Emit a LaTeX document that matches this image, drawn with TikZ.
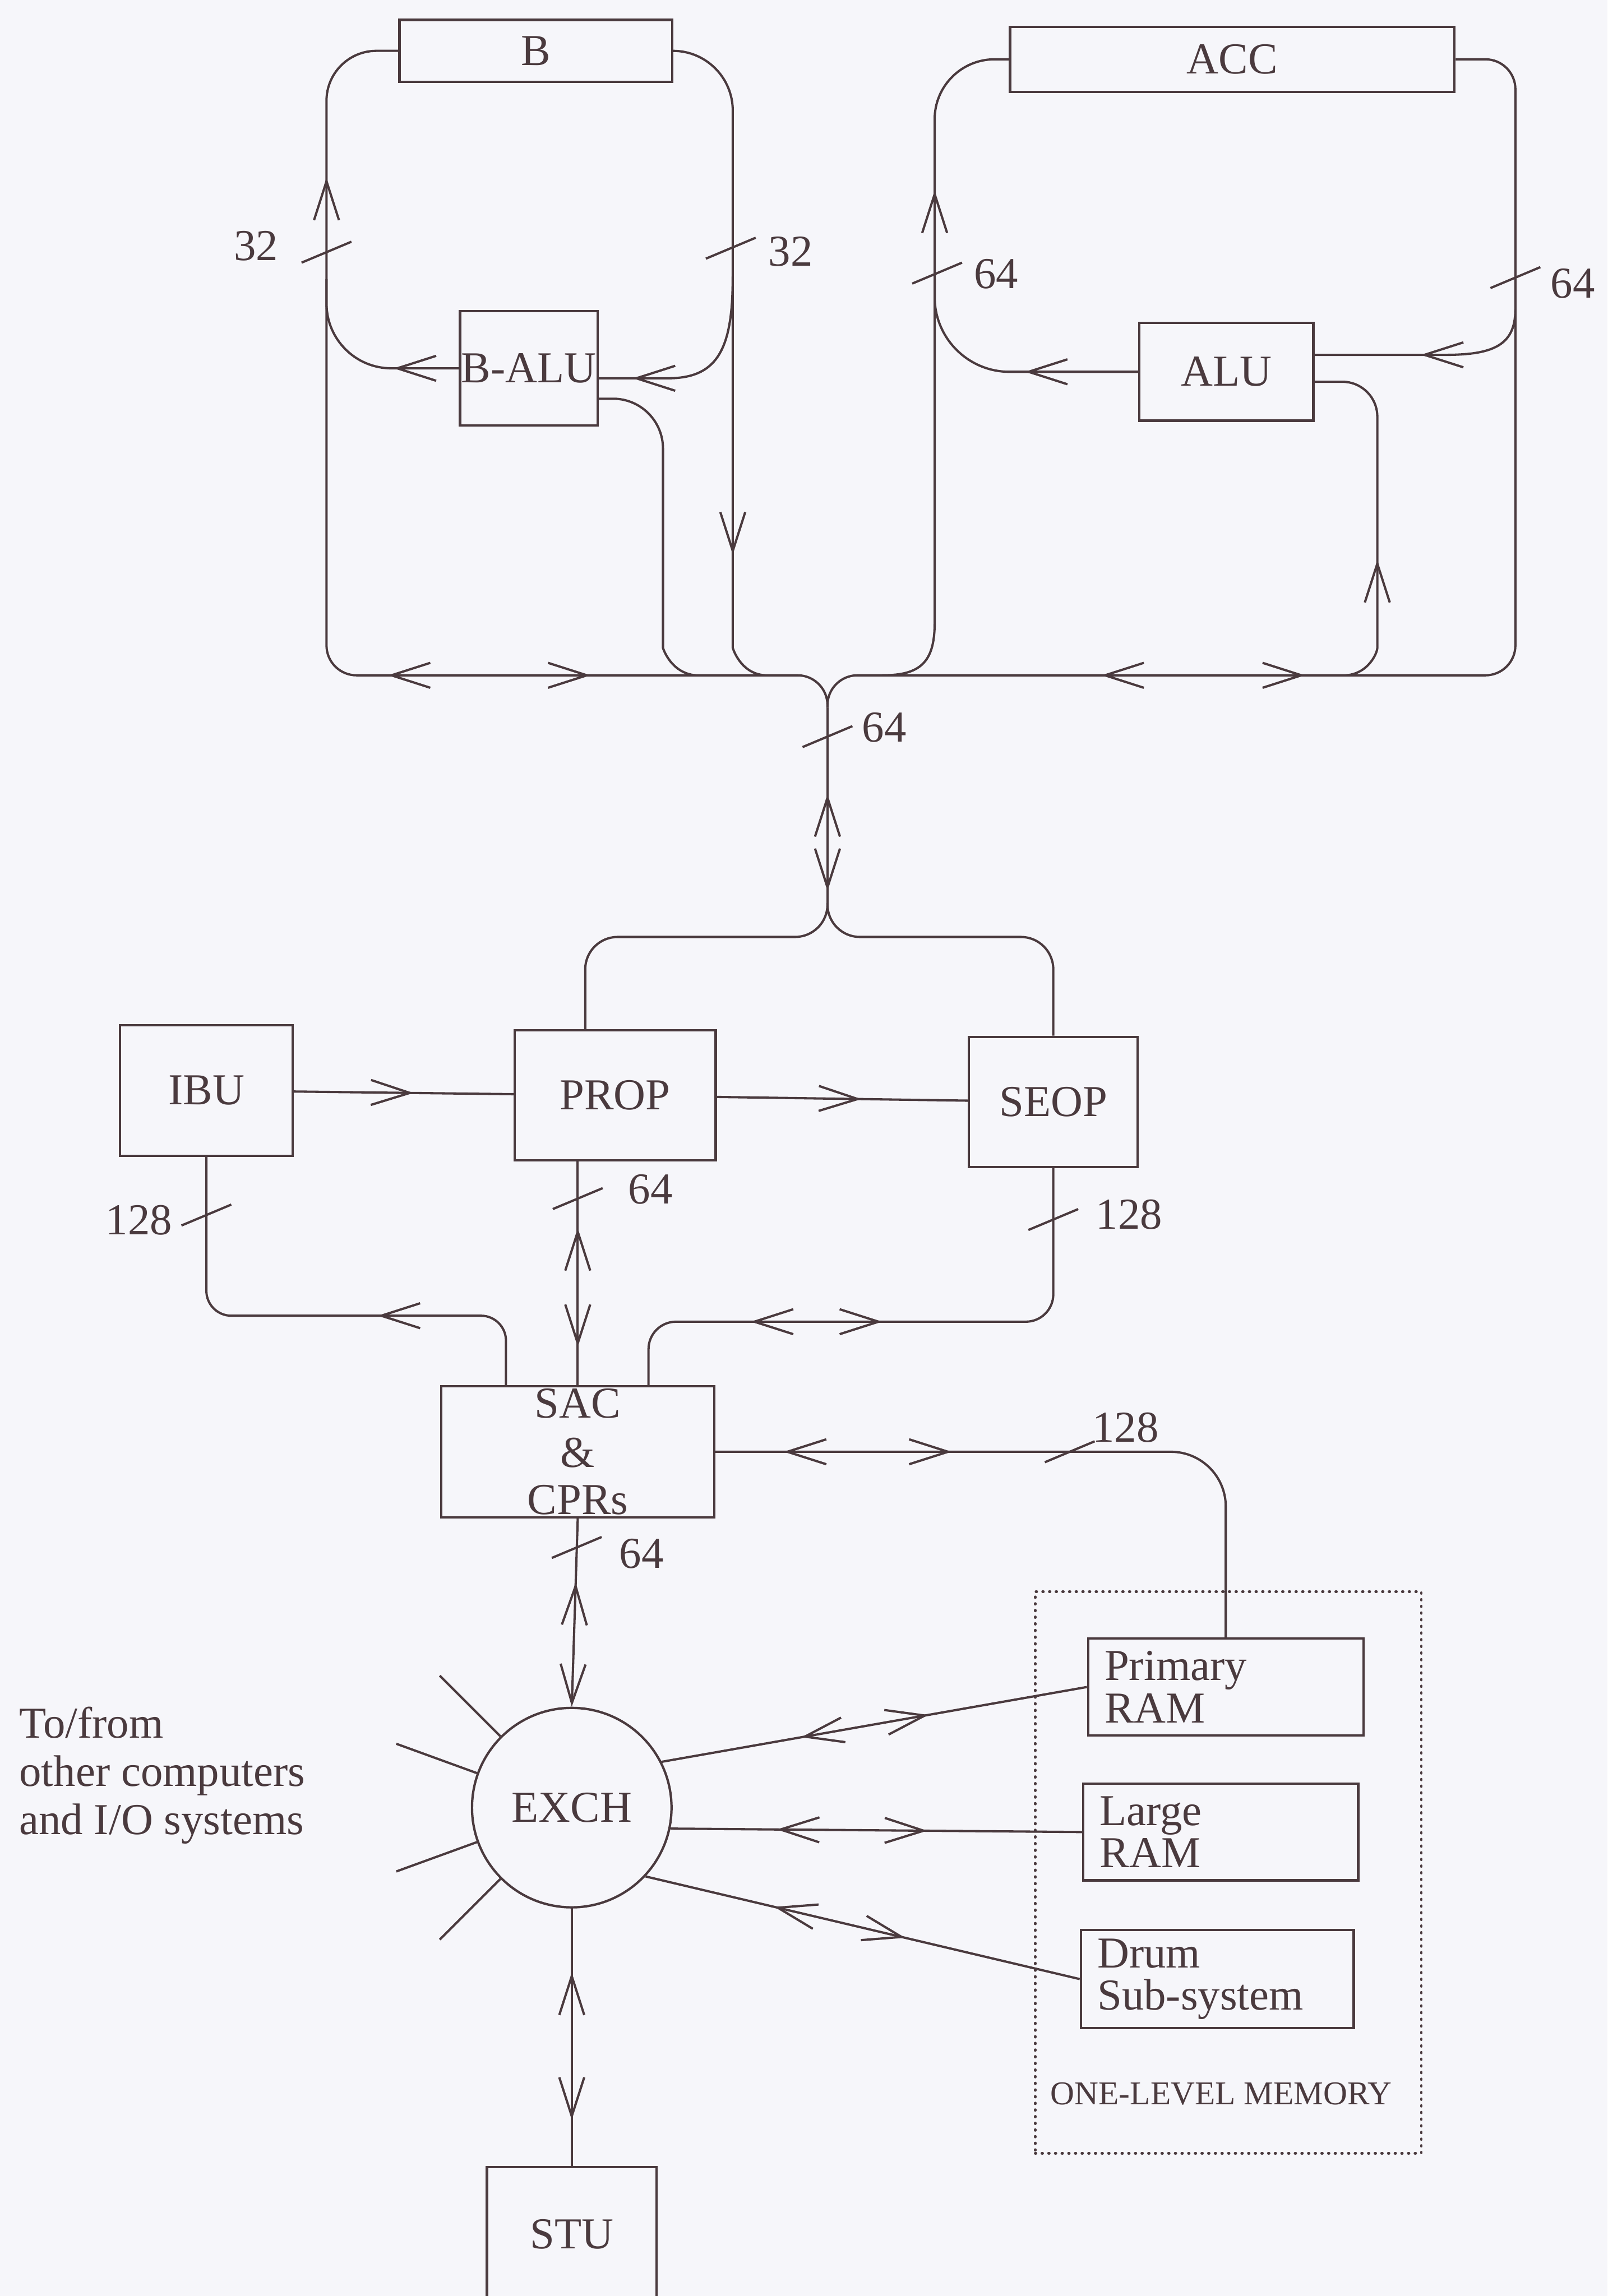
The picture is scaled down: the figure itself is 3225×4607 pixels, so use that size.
\documentclass[tikz,border=0pt]{standalone}
\usepackage{fontspec}
\setmainfont{Liberation Serif}
\usetikzlibrary{arrows.meta,decorations.markings,calc,positioning}
\definecolor{ink}{RGB}{74,58,62}
\definecolor{paper}{RGB}{246,246,250}
\newcommand{\bigtext}{\fontsize{25.2}{27.5}\selectfont}
\newcommand{\tighttext}{\fontsize{25.2}{24.2}\selectfont}
\newcommand{\smalltext}{\fontsize{19}{22}\selectfont}
\tikzset{>={Straight Barb[length=0.78cm,width=0.5cm]},
wire/.style={draw=ink, line width=1.3pt},
unit/.style={draw=ink, line width=1.35pt, inner sep=0pt, text=ink, font=\bigtext},
memunit/.style={unit, align=left, inner xsep=0.33cm, inner ysep=0pt, font=\tighttext},
lbl/.style={text=ink, font=\bigtext, inner sep=0pt},
%arrow heads in the middle of a wire, #1 = distance along the path
fwd/.style={postaction={decorate, decoration={markings, mark=at position #1 with {\arrow{>}}}}},
bwd/.style={postaction={decorate, decoration={markings, mark=at position #1 with {\arrowreversed{>}}}}},
wtick/.pic={\draw[wire] (-50,21) -- (50,-21);}}

\begin{document}
\begin{tikzpicture}[x=0.01cm, y=-0.01cm]

    \useasboundingbox (0,0) rectangle (3225,4607);
    \fill[paper] (0,0) rectangle (3225,4607);

    \node[unit, minimum width=5.47cm, minimum height=1.24cm] (B) at (1075,102) {B};
    \node[unit, minimum width=8.91cm, minimum height=1.30cm] (ACC) at (2472,119) {ACC};
    \node[unit, minimum width=2.76cm, minimum height=2.29cm] (BALU) at (1061,739) {B-ALU};
    \node[unit, minimum width=3.49cm, minimum height=1.96cm] (ALU) at (2460,746) {ALU};

    \node[unit, minimum width=3.46cm, minimum height=2.62cm] (IBU) at (414,2188) {IBU};
    \node[unit, minimum width=4.03cm, minimum height=2.61cm] (PROP) at (1234,2198) {PROP};
    \node[unit, minimum width=3.38cm, minimum height=2.61cm] (SEOP) at (2113,2211) {SEOP};
    \node[unit, align=center, font=\tighttext, minimum width=5.47cm, minimum height=2.63cm] (SAC) at (1159,2913)
      {SAC\\[3.8pt]\&\\[2.8pt]CPRs};

    \node[unit, circle, minimum size=4cm] (EXCH) at (1147,3627) {EXCH};
    \node[unit, minimum width=3.40cm, minimum height=2.70cm] (STU) at (1147,4483) {STU};

    \node[draw=ink, line width=1.5pt, line cap=round, dash pattern=on 0.4pt off 3.4pt,
      minimum width=7.74cm, minimum height=11.26cm] (mem) at (2464,3757) {};
    \node[memunit, text width=4.86cm, minimum height=1.94cm] (Primary) at (2459,3385) {Primary\\RAM};
    \node[memunit, text width=4.85cm, minimum height=1.94cm] (Large) at (2449,3676) {Large\\RAM};
    \node[memunit, text width=4.81cm, minimum height=1.97cm] (Drum) at (2442,3971) {Drum\\Sub-system};
    \node[lbl, font=\smalltext] (memname) at (2450,4201) {ONE-LEVEL MEMORY};

    \node[lbl, align=left, anchor=north west] (ext) at (38,3424) {To/from\\other computers\\and I/O systems};

    % bends and junctions of the wires
    \coordinate (jc) at (1660,1420);
    \coordinate (ju) at (1660,1812);
    \coordinate (blc) at (655,1355);
    \coordinate (blt) at (655,102);
    \coordinate (bmid) at (655,560);
    \coordinate (bsplit) at (1470,555);
    \coordinate (brv) at (1470,1180);
    \coordinate (bin) at (1199,759);
    \coordinate (bout) at (1199,800);
    \coordinate (bov) at (1330,1200);
    \coordinate (brc) at (3040,1355);
    \coordinate (brt) at (3040,119);
    \coordinate (alb) at (1770,1355);
    \coordinate (alv) at (1875,1250);
    \coordinate (amid) at (1875,560);
    \coordinate (asplit) at (3040,620);
    \coordinate (ain) at (2635,712);
    \coordinate (aout) at (2635,766);
    \coordinate (aov) at (2763,1230);
    \coordinate (pl) at (1174,1880);
    \coordinate (ptop) at (1174,2068);
    \coordinate (sr) at (2113,1880);
    \coordinate (sacl) at (1015,2782);
    \coordinate (sacr) at (1301,2782);
    \coordinate (ibc) at (414,2640);
    \coordinate (sbc) at (2113,2652);

    % B side
    \draw[wire, fwd=9.21cm, bwd=5.14cm, fwd=-3.55cm]
      (jc) [rounded corners=0.6cm] |- (blc) [rounded corners=1cm] -- (blt) [rounded corners=1.2cm] -- (B.west);
    \draw[wire, rounded corners=1.3cm, fwd=1.31cm] (BALU.west) -| (bmid);
    \draw[wire, fwd=10.8cm] (B.east) [rounded corners=1.2cm] -| (brv)
      .. controls (1470,1300) and (1485,1352) .. (1535,1355);
    \draw[wire, fwd=-0.7cm] (bsplit) .. controls (1470,700) and (1440,759) .. (1340,759) -- (bin);
    \draw[wire] (bout) [rounded corners=1cm] -| (bov) .. controls (1330,1300) and (1345,1350) .. (1395,1355);

    % ACC side
    \draw[wire, bwd=5.88cm, fwd=9.97cm]
      (jc) [rounded corners=0.6cm] |- (brc) -- (brt) [rounded corners=1.2cm] -- (ACC.east);
    \draw[wire, fwd=-3.6cm] (alb) .. controls (1845,1355) and (1875,1330) .. (alv)
      [rounded corners=1.2cm] |- (ACC.west);
    \draw[wire, rounded corners=1.5cm, fwd=2.27cm] (ALU.west) -| (amid);
    \draw[wire, fwd=-2.15cm] (asplit) .. controls (3040,690) and (3000,712) .. (2900,712) -- (ain);
    \draw[wire, bwd=4.55cm] (aout) [rounded corners=0.7cm] -| (aov)
      .. controls (2763,1310) and (2745,1352) .. (2700,1355);

    % common bus down to PROP and SEOP
    \draw[wire, bwd=1.73cm, fwd=3.68cm] (jc) -- (ju);
    \draw[wire, rounded corners=0.65cm] (ju) |- (pl) -- (ptop);
    \draw[wire, rounded corners=0.65cm] (ju) |- (sr) -- (SEOP.north);

    \draw[wire, fwd=2.4cm] (IBU) -- (PROP);
    \draw[wire, fwd=2.9cm] (PROP) -- (SEOP);
    \draw[wire, rounded corners=0.5cm, fwd=3.78cm] (sacl) |- (ibc) -- (IBU.south);
    \draw[wire, fwd=3.15cm, bwd=0.76cm] (SAC.north) -- (SAC.north |- PROP.south);
    \draw[wire, rounded corners=0.55cm, bwd=3.11cm, fwd=5.75cm] (sacr) |- (sbc) -- (SEOP.south);
    \draw[wire, rounded corners=1.1cm, bwd=1.37cm, fwd=4.74cm] (SAC.east) -| (Primary.north);

    \draw[wire, bwd=1.28cm, ->] (SAC.south) -- (EXCH.north);
    \draw[wire, bwd=1.28cm, fwd=4.24cm] (EXCH.south) -- (STU.north);
    \draw[wire, bwd=2.84cm, fwd=5.43cm] (EXCH.27) -- (Primary.west);
    \draw[wire, bwd=2.13cm, fwd=5.15cm] (EXCH.-12) -- (Large.west);
    \draw[wire, bwd=2.65cm, fwd=5.35cm] (EXCH.-43) -- (Drum.west);

    \foreach \a in {135,160,200,225}
    \draw[wire] (EXCH.\a) -- ($(EXCH.center)!1.85!(EXCH.\a)$);

    % bus widths
    \foreach \x/\y in {655/506, 1466/498, 1880/548, 3040/557, 1660/1478, 414/2438, 1159/2405, 2113/2447, 2146/2913, 1157/3105}
    \pic at (\x,\y) {wtick};

    \node[lbl] (w32a) at (514,493) {32};
    \node[lbl] (w32b) at (1586,505) {32};
    \node[lbl] (w64a) at (1998,550) {64};
    \node[lbl] (w64b) at (3155,569) {64};
    \node[lbl] (w64c) at (1774,1460) {64};
    \node[lbl] (w128a) at (279,2448) {128};
    \node[lbl] (w64d) at (1305,2387) {64};
    \node[lbl] (w128b) at (2265,2437) {128};
    \node[lbl] (w128c) at (2258,2864) {128};
    \node[lbl] (w64e) at (1287,3118) {64};

  \end{tikzpicture}
\end{document}
